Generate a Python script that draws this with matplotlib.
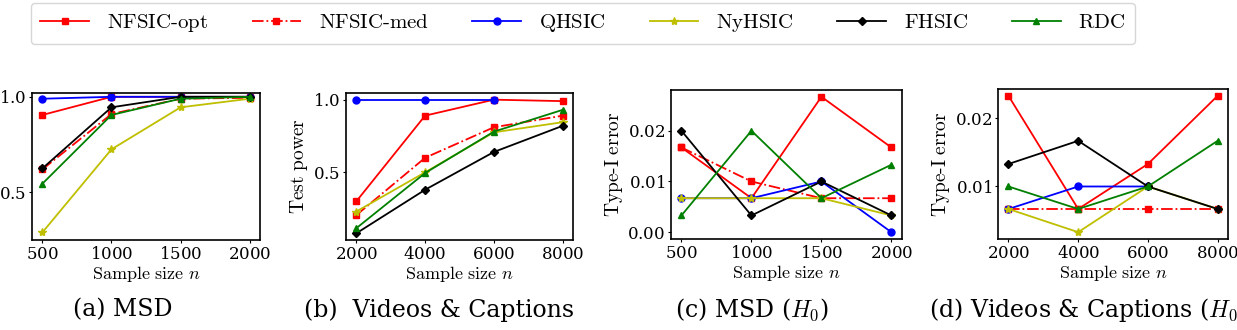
import matplotlib
matplotlib.use("Agg")
import matplotlib.pyplot as plt

plt.rcParams["font.family"] = ["DejaVu Serif"]
plt.rcParams["mathtext.fontset"] = "cm"
plt.rcParams["axes.formatter.use_mathtext"] = True


def cm(s):
    # render plain words in Computer Modern through mathtext
    s = s.replace("-", r"\text{-}").replace(" ", r"\ ")
    return r"$\mathrm{" + s + "}$"


methods = ["NFSIC-opt", "NFSIC-med", "QHSIC", "NyHSIC", "FHSIC", "RDC"]
colors = ["r", "r", "b", "y", "k", "g"]
markers = ["s", "s", "o", "*", "D", "^"]
styles = ["-", "-.", "-", "-", "-", "-"]

n_msd = [500, 1000, 1500, 2000]
n_vid = [2000, 4000, 6000, 8000]

# (a) MSD, test power
power_msd = {
    "NFSIC-opt": [0.905, 1.0, 1.0, 1.0],
    "NFSIC-med": [0.62, 0.91, 0.99, 0.995],
    "QHSIC": [0.99, 1.0, 1.0, 1.0],
    "NyHSIC": [0.29, 0.725, 0.945, 0.99],
    "FHSIC": [0.625, 0.945, 1.0, 1.0],
    "RDC": [0.545, 0.905, 0.99, 1.0],
}
# (b) Videos & Captions, test power
power_vid = {
    "NFSIC-opt": [0.30, 0.89, 1.0, 0.99],
    "NFSIC-med": [0.205, 0.60, 0.81, 0.89],
    "QHSIC": [1.0, 1.0, 1.0],
    "NyHSIC": [0.23, 0.50, 0.775, 0.845],
    "FHSIC": [0.08, 0.38, 0.64, 0.82],
    "RDC": [0.115, 0.495, 0.78, 0.93],
}
# (c) MSD (H0), type-I error
err_msd = {
    "NFSIC-opt": [0.0167, 0.0067, 0.0267, 0.0167],
    "NFSIC-med": [0.0167, 0.0100, 0.0067, 0.0067],
    "QHSIC": [0.0067, 0.0067, 0.0100, 0.0],
    "NyHSIC": [0.0067, 0.0067, 0.0067, 0.0033],
    "FHSIC": [0.0200, 0.0033, 0.0100, 0.0033],
    "RDC": [0.0033, 0.0200, 0.0067, 0.0133],
}
# (d) Videos & Captions (H0), type-I error
err_vid = {
    "NFSIC-opt": [0.0233, 0.0067, 0.0133, 0.0233],
    "NFSIC-med": [0.0067, 0.0067, 0.0067, 0.0067],
    "QHSIC": [0.0067, 0.0100, 0.0100],
    "NyHSIC": [0.0067, 0.0033, 0.0100, 0.0067],
    "FHSIC": [0.0133, 0.0167, 0.0100, 0.0067],
    "RDC": [0.0100, 0.0067, 0.0100, 0.0167],
}

panels = [
    (n_msd, power_msd, "Test power", "(a) MSD", [0.5, 1.0], (0.25, 1.02)),
    (n_vid, power_vid, "Test power", "(b)  Videos & Captions", [0.5, 1.0], None),
    (n_msd, err_msd, "Type-I error", "(c) MSD ($H_0$)", [0.0, 0.01, 0.02], None),
    (n_vid, err_vid, "Type-I error", "(d) Videos & Captions ($H_0$)", [0.01, 0.02], None),
]
boxes = [
    [0.0259, 0.2727, 0.1843, 0.4455],
    [0.2797, 0.2727, 0.1835, 0.4455],
    [0.5424, 0.2758, 0.1867, 0.4515],
    [0.8068, 0.2758, 0.1860, 0.4545],
]
cap_x = [123, 439, 752, 1088]

fig = plt.figure(figsize=(12.37, 3.3), dpi=100)
lines = []
for (xs, ys, ylab, cap, yt, ylim), box, cx in zip(panels, boxes, cap_x):
    ax = fig.add_axes(box)
    for m, c, mk, ls in zip(methods, colors, markers, styles):
        y = ys[m]
        ms = {"*": 6, "D": 4.5}.get(mk, 5)
        l, = ax.plot(xs[:len(y)], y, color=c, marker=mk, linestyle=ls,
                     linewidth=1.3, markersize=ms, label=m)
        if len(lines) < len(methods):
            lines.append(l)
    ax.set_xticks(xs)
    ax.set_yticks(yt)
    if ylim:
        ax.set_ylim(*ylim)
    ax.tick_params(labelsize=12, length=2.5, pad=1.5)
    ax.set_xlabel(cm("Sample size") + " $n$", fontsize=13, labelpad=1)
    ax.set_ylabel(cm(ylab), fontsize=14, labelpad=2)
    for s in ax.spines.values():
        s.set_linewidth(1.2)
    fig.text(cx / 1237, 0.06, cap, ha="center", va="center", fontsize=17)

fig.legend(lines, [cm(m) for m in methods], loc="upper left",
           bbox_to_anchor=(31 / 1237, 1 - 3 / 330),
           borderaxespad=0, ncol=6, fontsize=15,
           frameon=True, fancybox=True, edgecolor="#cccccc",
           handlelength=2.35, handletextpad=0.85, columnspacing=2.1,
           borderpad=0.45)

plt.savefig("out.png", dpi=100)
